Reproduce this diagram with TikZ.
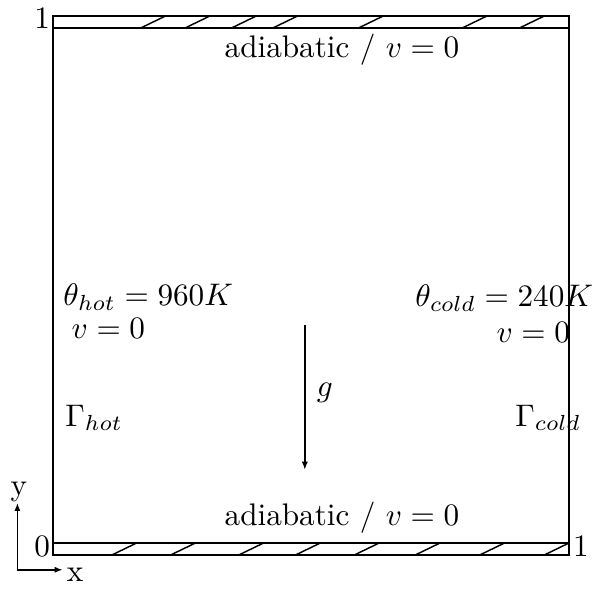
\documentclass[tikz,border=0pt]{standalone}
\usetikzlibrary{arrows.meta,positioning}
\tikzset{
  >={Latex[length=4.5pt,width=3.4pt]},
  wall/.style={line width=1.1pt},
  hatch/.style={line width=0.8pt},
  lbl/.style={font=\normalsize,inner sep=0pt,scale=1.72},
  flow/.style={->,line width=0.9pt},
}

\begin{document}
\begin{tikzpicture}[y=0.998cm]
    \useasboundingbox (-1.027,-0.874) rectangle (10.484,10.544);
    % cavity and the two insulated walls
    \draw[wall] (0,0) rectangle (10,10);
    \draw[wall] (0,10) rectangle (10,10.233);
    \draw[wall] (0,0) rectangle (10,-0.233);
    \foreach \x in {1.70,2.56,3.46,4.26,5.92,7.93,9.04}
      \draw[hatch] (\x,10) -- ++(0.48,0.233);
    \foreach \x in {1.14,2.28,3.60,4.70,5.84,7.02,8.27,9.52}
      \draw[hatch] (\x,-0.233) -- ++(0.48,0.233);
    \node[lbl] (top) at (5.60,9.57) {adiabatic / $v=0$};
    \node[lbl] (bot) at (5.60,0.50) {adiabatic / $v=0$};
    \node[lbl,anchor=west] (thot) at (0.19,4.78) {$\theta_{hot}=960K$};
    \node[lbl,anchor=west] (vhot) at (0.35,4.16) {$v=0$};
    \node[lbl,anchor=east] (tcold) at (10.48,4.76) {$\theta_{cold}=240K$};
    \node[lbl,anchor=east] (vcold) at (10.03,4.08) {$v=0$};
    \node[lbl,anchor=west] (ghot) at (0.23,2.43) {$\Gamma_{hot}$};
    \node[lbl,anchor=west] (gcold) at (8.95,2.43) {$\Gamma_{cold}$};
    % gravity
    \coordinate (gtop) at (4.88,4.23);
    \coordinate (gbot) at (4.88,1.42);
    \draw[flow] (gtop) -- (gbot);
    \node[lbl,anchor=west] (g) at (5.10,2.91) {$g$};
    % corner values
    \node[lbl] (ytop) at (-0.21,10.19) {1};
    \node[lbl] (xzero) at (-0.21,-0.06) {0};
    \node[lbl] (xone) at (10.23,-0.06) {1};
    % axes
    \coordinate (o) at (-0.69,-0.52);
    \coordinate (ox) at (0.19,-0.52);
    \coordinate (oy) at (-0.69,0.78);
    \draw[flow] (o) -- (ox);
    \draw[flow] (o) -- (oy);
    \node[lbl] (xl) at (0.43,-0.62) {x};
    \node[lbl] (yl) at (-0.66,0.99) {y};
\end{tikzpicture}
\end{document}
